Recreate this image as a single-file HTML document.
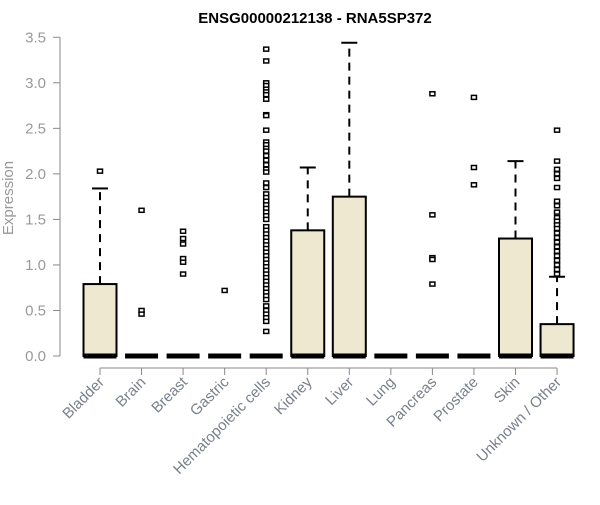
<!DOCTYPE html>
<html><head><meta charset="utf-8"><style>
body{margin:0;background:#fff}
svg text{font-family:"Liberation Sans",Arial,sans-serif}
</style></head><body>
<svg id="chart" width="600" height="500" xmlns="http://www.w3.org/2000/svg">
<text x="315" y="23" text-anchor="middle" font-size="15" font-weight="bold">ENSG00000212138 - RNA5SP372</text>
<text transform="translate(13,198) rotate(-90)" text-anchor="middle" font-size="15" fill="#999">Expression</text>
<g id="axes"></g><g id="boxes"></g>
</svg>
<script>
const categories=["Bladder","Brain","Breast","Gastric","Hematopoietic cells","Kidney","Liver","Lung","Pancreas","Prostate","Skin","Unknown / Other"];
const q1=[0,0,0,0,0,0,0,0,0,0,0,0];
const medians=[0,0,0,0,0,0,0,0,0,0,0,0];
const q3=[0.79,0,0,0,0,1.38,1.75,0,0,0,1.29,0.35];
const whiskerHigh=[1.84,0,0,0,0,2.07,3.44,0,0,0,2.14,0.87];
const outliers=[[2.03],[1.6,0.5,0.46],[1.37,1.29,1.23,1.07,1.03,0.9],[0.72],
[3.37,3.24,3.0,2.97,2.93,2.9,2.87,2.82,2.65,2.64,2.48,2.35,2.32,2.28,2.25,2.2,2.15,2.1,2.05,2.02,1.9,1.85,1.78,1.74,1.7,1.66,1.62,1.58,1.54,1.5,1.42,1.38,1.34,1.3,1.26,1.22,1.18,1.14,1.1,1.06,1.02,0.98,0.94,0.9,0.86,0.82,0.78,0.74,0.7,0.66,0.62,0.55,0.5,0.46,0.42,0.38,0.27],
[],[],[],[2.88,1.55,1.08,1.06,0.79],[2.84,2.07,1.88],[],
[2.48,2.14,2.05,2.0,1.95,1.85,1.7,1.65,1.58,1.52,1.48,1.44,1.4,1.35,1.3,1.25,1.2,1.15,1.1,1.05,1.0,0.95,0.9]];
const yTicks=[0,0.5,1,1.5,2,2.5,3,3.5];
const yTickLabels=["0.0","0.5","1.0","1.5","2.0","2.5","3.0","3.5"];
const NS="http://www.w3.org/2000/svg";
const y=v=>356-v*91.06;
const x=i=>100+i*41.55;
function mk(tag,attrs,parent){const e=document.createElementNS(NS,tag);for(const k in attrs)e.setAttribute(k,attrs[k]);parent.appendChild(e);return e;}
const ax=document.getElementById('axes'),bx=document.getElementById('boxes');
const yl=mk('line',{x1:60,x2:60,y1:y(0),y2:y(3.5),stroke:'#888'},ax);


yTicks.forEach((t,i)=>{
 const tk=mk('line',{x1:53,x2:60,y1:y(t),y2:y(t),stroke:'#888'},ax);
 
 
 const tx=mk('text',{x:46,y:y(t)+5,'text-anchor':'end','font-size':15,fill:'#999'},ax);
 
 
 tx.textContent=yTickLabels[i];
});
const xl=mk('line',{x1:x(0),x2:x(categories.length-1),y1:368,y2:368,stroke:'#888'},ax);


categories.forEach((c,i)=>{
 const tk=mk('line',{x1:x(i),x2:x(i),y1:368,y2:375,stroke:'#888'},ax);
 
 
 const tx=mk('text',{transform:`translate(${x(i)+5},${383}) rotate(-45)`,'text-anchor':'end','font-size':15,fill:'#7a808c'},ax);
 
 
 tx.textContent=c;
 const g=mk('g',{},bx);
 
 
 const cx=x(i),hw=16.5;
 if(whiskerHigh[i]>q3[i]){
  mk('line',{x1:cx,x2:cx,y1:y(q3[i]),y2:y(whiskerHigh[i]),stroke:'#000','stroke-width':2,'stroke-dasharray':'8,6'},g);
  mk('line',{x1:cx-8,x2:cx+8,y1:y(whiskerHigh[i]),y2:y(whiskerHigh[i]),stroke:'#000','stroke-width':2},g);
 }
 if(q3[i]>q1[i]) mk('rect',{x:cx-hw,y:y(q3[i]),width:hw*2,height:y(q1[i])-y(q3[i]),fill:'#ede8cf',stroke:'#000','stroke-width':2},g);
 mk('line',{x1:cx-hw,x2:cx+hw,y1:y(medians[i]),y2:y(medians[i]),stroke:'#000','stroke-width':5},g);
 outliers[i].forEach(v=>{
  const p=mk('rect',{x:cx-2.5,y:y(v)-2,width:5,height:4,fill:'#fff',stroke:'#000','stroke-width':1.5},g);
  
  
 });
});
</script>
</body></html>
